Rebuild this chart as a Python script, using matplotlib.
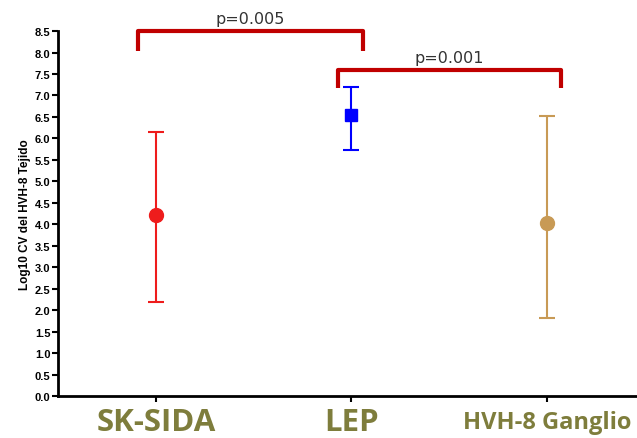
import matplotlib
matplotlib.use("Agg")
import matplotlib.pyplot as plt

groups = ["SK-SIDA", "LEP", "HVH-8 Ganglio"]
centers = [4.22, 6.54, 4.03]
upper = [6.15, 7.20, 6.52]
lower = [2.19, 5.73, 1.82]
colors = ["#ee1c1c", "#0000ff", "#c89a55"]
markers = ["o", "s", "o"]

# brackets: (x left, x right, y top, y foot, label)
brackets = [(-0.09, 1.06, 8.50, 8.03, "p=0.005"),
            (0.93, 2.07, 7.60, 7.18, "p=0.001")]

fig = plt.figure(figsize=(6.37, 4.39), dpi=100)
ax = fig.add_axes([0.091, 0.0957, 0.909, 0.8313])

for i, g in enumerate(groups):
    err = [[centers[i] - lower[i]], [upper[i] - centers[i]]]
    ax.errorbar([i], [centers[i]], yerr=err, color=colors[i], marker=markers[i],
                markersize=10 if markers[i] == "o" else 9, capsize=6,
                elinewidth=1.5, capthick=1.5, zorder=3)

for x0, x1, ytop, yfoot, lab in brackets:
    ax.plot([x0, x0, x1, x1], [yfoot, ytop, ytop, yfoot], color="#c00000",
            lw=3, solid_joinstyle="round", solid_capstyle="butt", clip_on=False)
    ax.text((x0 + x1) / 2, ytop + 0.12, lab, ha="center", va="bottom",
            fontsize=11.5, color="#333333", family="DejaVu Sans")

ax.set_xlim(-0.5, 2.46)
ax.set_ylim(0, 8.5)
ax.set_yticks([i * 0.5 for i in range(18)])
ax.set_yticklabels([f"{i * 0.5:.1f}" for i in range(18)], fontsize=8, fontweight="bold",
                   family="Liberation Sans")
ax.set_xticks(range(len(groups)))
ax.set_xticklabels([])

# category names drawn as text below the axis
label_sizes = [22.5, 22.5, 17]
label_x = [0, 1, 1.571]
label_ha = ["center", "center", "left"]
label_y = [-0.80, -0.80, -0.74]
for i, g in enumerate(groups):
    ax.text(label_x[i], label_y[i], g, ha=label_ha[i], va="baseline",
            fontsize=label_sizes[i], fontweight="bold", color="#7e7d3c",
            family="Open Sans", clip_on=False)

ax.set_ylabel("Log10 CV del HVH-8 Tejido", fontsize=8.5, fontweight="bold",
              family="Liberation Sans", labelpad=3)
for s in ["top", "right"]:
    ax.spines[s].set_visible(False)
for s in ["left", "bottom"]:
    ax.spines[s].set_linewidth(2)
ax.tick_params(axis="both", width=1.5, length=4, direction="out", pad=1.5)

fig.savefig("out.png", dpi=100)
